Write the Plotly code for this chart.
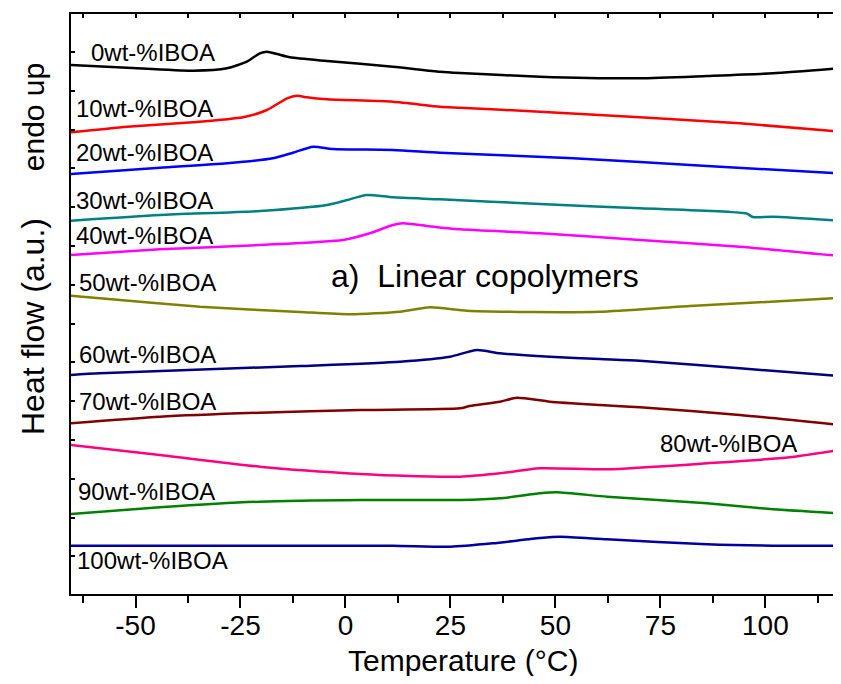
import plotly.graph_objects as go

# ---------------- data ----------------
series_names = ["0wt-%IBOA", "10wt-%IBOA", "20wt-%IBOA", "30wt-%IBOA", "40wt-%IBOA",
                "50wt-%IBOA", "60wt-%IBOA", "70wt-%IBOA", "80wt-%IBOA", "90wt-%IBOA",
                "100wt-%IBOA"]

t_0 = [-65.4, -52.0, -36.3, -28.2, -23.5, -20.4, -18.7, -16.3, -13.2, -4.4, 11.3, 22.5, 27.3, 46.3, 70.1, 86.1, 101.8, 117.7]
h_0 = [529, 526.3, 523.3, 525.7, 532.3, 540.7, 542.3, 540, 536.7, 533, 527.3, 522.3, 521, 517.3, 515.7, 518, 520.7, 525.7]

t_10 = [-65.4, -52.0, -36.3, -24.4, -18.7, -13.9, -11.5, -9.2, -4.4, 11.3, 22.5, 27.3, 46.3, 70.1, 93.9, 117.7]
h_10 = [461.7, 467.3, 471.7, 476.7, 484, 495.7, 498.3, 496.7, 494.7, 492.3, 487.3, 486.3, 482.3, 476.7, 470.7, 462.5]

t_20 = [-65.4, -44.2, -28.2, -17.3, -12.5, -7.7, -3.0, 11.3, 22.5, 54.2, 86.1, 117.7]
h_20 = [420, 426.3, 430.7, 435.7, 441.3, 447.3, 445, 444, 441.3, 435.7, 428, 420.7]

t_30 = [-65.4, -44.2, -20.4, -4.4, 0.4, 5.1, 11.3, 22.5, 46.3, 70.1, 95.5, 97.0, 101.8, 117.7]
h_30 = [373.3, 379, 383, 389, 394, 399, 396.7, 394.7, 390, 385.7, 380.5, 377, 377.3, 373.3]

t_40 = [-65.4, -44.2, -20.4, -0.6, 5.8, 11.3, 13.7, 19.4, 27.3, 46.3, 70.1, 93.9, 117.7]
h_40 = [339, 344.7, 349, 354, 360.7, 369, 370.7, 368, 364.7, 360.7, 354, 347.3, 338]

t_50 = [-65.4, -58.5, -34.6, -10.8, 1.1, 13.0, 20.1, 28.9, 44.6, 60.6, 82.0, 117.7]
h_50 = [298.3, 295.7, 287.3, 282, 279.7, 282.3, 286.7, 283.3, 282, 282.3, 288, 296]

t_60 = [-65.4, -58.5, -10.8, 13.0, 24.9, 31.3, 36.8, 48.7, 60.6, 70.1, 93.9, 117.7]
h_60 = [219, 220.7, 228, 232.3, 237.3, 244, 240.7, 237.3, 235, 233.3, 225.7, 218]

t_70 = [-65.4, -44.2, -20.4, 3.5, 27.3, 29.6, 36.8, 40.8, 48.7, 60.6, 70.1, 93.9, 117.7]
h_70 = [170.7, 177.3, 181.3, 184, 185.7, 188, 192.3, 196.3, 192.3, 189, 186.7, 179, 169]

t_80 = [-65.4, -44.2, -20.4, 3.5, 15.4, 27.3, 36.8, 46.3, 62.3, 86.1, 105.8, 117.7]
h_80 = [149, 139, 127.3, 120, 118, 117.3, 120.7, 125.7, 124.7, 130.7, 136.7, 144]

t_90 = [-65.4, -44.2, -20.4, 3.5, 27.3, 36.8, 46.3, 50.4, 62.3, 86.1, 101.8, 117.7]
h_90 = [80, 86.7, 92.3, 94, 94, 95.7, 100.7, 101.7, 97.3, 90.7, 84.7, 80.7]

t_100 = [-65.4, -20.4, 11.3, 24.9, 35.1, 46.3, 51.1, 62.3, 86.1, 101.8, 117.7]
h_100 = [48.3, 48.3, 48.3, 47.3, 50.7, 56, 57.3, 54.7, 49.7, 48.3, 48.3]

x_tick_vals = [-50, -25, 0, 25, 50, 75, 100]
x_tick_text = ["-50", "-25", "0", "25", "50", "75", "100"]

# ---------------- styling ----------------
colors = ["#000000", "#FF0000", "#0000FF", "#008080", "#FF00FF", "#808000",
          "#000080", "#800000", "#FF0080", "#008000", "#0000A0"]
all_t = [t_0, t_10, t_20, t_30, t_40, t_50, t_60, t_70, t_80, t_90, t_100]
all_h = [h_0, h_10, h_20, h_30, h_40, h_50, h_60, h_70, h_80, h_90, h_100]

# label anchor positions (x in degC, y in a.u.)
label_pos = [(-61.1, 542), (-64.6, 486), (-64.6, 442), (-64.6, 394), (-64.6, 359),
             (-63.9, 312), (-63.9, 240), (-63.9, 193), (74.4, 151), (-64.2, 103),
             (-64.4, 34)]

FONT = "Liberation Sans, Arial, sans-serif"

fig = go.Figure()
for name, t, h, c in zip(series_names, all_t, all_h, colors):
    fig.add_trace(go.Scatter(x=t, y=h, mode="lines", name=name,
                             line=dict(color=c, width=2.5, shape="spline", smoothing=0.6),
                             showlegend=False, hoverinfo="skip"))

# invisible trace on the top axis so its inward ticks are drawn
fig.add_trace(go.Scatter(x=t_0, y=h_0, xaxis="x2", mode="lines",
                         line=dict(width=0), opacity=0, showlegend=False, hoverinfo="skip"))

annotations = []
for name, (lx, ly) in zip(series_names, label_pos):
    annotations.append(dict(x=lx, y=ly, xref="x", yref="y", text=name, showarrow=False,
                            xanchor="left", yanchor="middle",
                            font=dict(family=FONT, size=24, color="black")))
annotations.append(dict(x=-3.9, y=318, xref="x", yref="y", text="a)  Linear copolymers",
                        showarrow=False, xanchor="left", yanchor="middle",
                        font=dict(family=FONT, size=32, color="black")))
annotations.append(dict(x=-0.0499, y=0.822, xref="paper", yref="paper", text="endo up",
                        textangle=-90, showarrow=False, xanchor="center", yanchor="middle",
                        font=dict(family=FONT, size=30, color="black")))
annotations.append(dict(x=-0.0499, y=0.462, xref="paper", yref="paper", text="Heat flow (a.u.)",
                        textangle=-90, showarrow=False, xanchor="center", yanchor="middle",
                        font=dict(family=FONT, size=32, color="black")))
annotations.append(dict(x=0.5138, y=-0.1155, xref="paper", yref="paper", text="Temperature (°C)",
                        showarrow=False, xanchor="center", yanchor="middle",
                        font=dict(family=FONT, size=30, color="black")))

fig.update_layout(
    width=825, height=668,
    margin=dict(l=63, r=0, t=6, b=82),
    paper_bgcolor="white", plot_bgcolor="white",
    font=dict(family=FONT, color="black"),
    xaxis=dict(range=[-65.36, 116.1], showgrid=False, zeroline=False,
               showline=True, linecolor="black", linewidth=2,
               tickmode="array", tickvals=x_tick_vals, ticktext=x_tick_text,
               ticks="outside", ticklen=12, tickwidth=2, tickcolor="black",
               minor=dict(dtick=12.5, tick0=0, ticks="outside", ticklen=7, tickwidth=2, tickcolor="black"),
               tickfont=dict(family=FONT, size=28, color="black"),
               ticklabelstandoff=-7),
    xaxis2=dict(overlaying="x", side="top", matches="x", showgrid=False, zeroline=False,
                showline=True, linecolor="black", linewidth=2,
                tick0=0, dtick=12.5, ticks="inside", ticklen=4, tickwidth=1.5, tickcolor="black",
                showticklabels=False),
    yaxis=dict(range=[0, 580], showgrid=False, zeroline=False,
               showline=True, linecolor="black", linewidth=2,
               tick0=542, dtick=38.8, ticks="inside", ticklen=4, tickwidth=1.5, tickcolor="black",
               showticklabels=False),
    annotations=annotations,
)

fig.write_html("out.html")
